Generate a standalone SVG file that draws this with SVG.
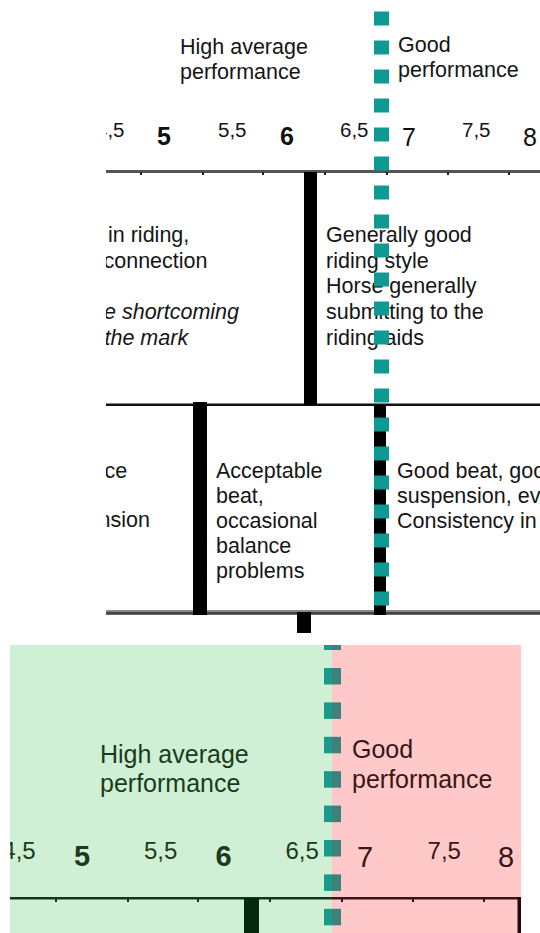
<svg xmlns="http://www.w3.org/2000/svg" width="540" height="933" viewBox="0 0 540 933">
  <style>
    .t { font-family: "Liberation Sans", Arial, sans-serif; font-size: 21.5px; fill: #151515; }
    .it { font-style: italic; }
    .half { font-family: "Liberation Sans", Arial, sans-serif; font-size: 20.5px; fill: #151515; }
    .int { font-family: "Liberation Sans", Arial, sans-serif; font-size: 25px; fill: #111; }
    .b { font-weight: bold; }
    .bt { font-family: "Liberation Sans", Arial, sans-serif; font-size: 25px; }
    .bhalf { font-family: "Liberation Sans", Arial, sans-serif; font-size: 24px; }
    .bint { font-family: "Liberation Sans", Arial, sans-serif; font-size: 29px; }
    .gtxt { fill: #1c3a20; }
    .rtxt { fill: #3a1515; }
    .teal { fill: #0e9a93; }
  </style>
  <defs>
    <clipPath id="clipTop"><rect x="106" y="0" width="434" height="640"/></clipPath>
    <clipPath id="clipBot"><rect x="10" y="645" width="511" height="288"/></clipPath>
    <rect id="sq" x="374" y="0" width="15" height="14" class="teal"/>
    <g id="bsq">
      <rect x="324" y="0" width="8.5" height="16.5" fill="#1b9a8a"/>
      <rect x="332" y="0" width="9" height="16.5" fill="#3d807c"/>
    </g>
  </defs>

  <!-- ============ TOP PANEL ============ -->
  <g id="top-panel" clip-path="url(#clipTop)">
    <g id="top-header">
      <text class="t" x="180" y="54">High average</text>
      <text class="t" x="180" y="79">performance</text>
      <text class="t" x="398" y="52">Good</text>
      <text class="t" x="398" y="77">performance</text>
    </g>
    <g id="top-scale">
      <text class="half" x="96" y="137">4,5</text>
      <text class="int b" x="157" y="145">5</text>
      <text class="half" x="218" y="137">5,5</text>
      <text class="int b" x="280" y="145">6</text>
      <text class="half" x="340" y="137">6,5</text>
      <text class="int" x="402" y="146">7</text>
      <text class="half" x="462" y="137">7,5</text>
      <text class="int" x="523" y="146">8</text>
    </g>
    <g id="top-lines">
      <rect x="106" y="170" width="434" height="3" fill="#555"/>
      <g fill="#222">
        <rect x="140" y="172" width="2" height="3"/>
        <rect x="202" y="172" width="2" height="3"/>
        <rect x="262" y="172" width="2" height="3"/>
        <rect x="324" y="172" width="2" height="3"/>
        <rect x="386" y="172" width="2" height="3"/>
        <rect x="447" y="172" width="2" height="3"/>
        <rect x="508" y="172" width="2" height="3"/>
      </g>
      <rect x="106" y="403.5" width="434" height="2.5" fill="#111"/>
      <rect x="106" y="610" width="434" height="5" fill="#888"/>
      <rect x="106" y="612" width="434" height="2.5" fill="#444"/>
    </g>
    <g id="top-bars" fill="#000">
      <rect x="304" y="172" width="13" height="233"/>
      <rect x="193" y="402" width="14" height="213"/>
      <rect x="374" y="405" width="12" height="210"/>
      <rect x="297" y="612" width="14" height="21"/>
    </g>
    <g id="row1-left">
      <text class="t" x="108" y="242">in riding,</text>
      <text class="t" x="103.5" y="268">connection</text>
      <text class="t it" x="104" y="319">e shortcoming</text>
      <text class="t it" x="104.5" y="345">the mark</text>
    </g>
    <g id="row1-right">
      <text class="t" x="326" y="242">Generally good</text>
      <text class="t" x="326" y="268">riding style</text>
      <text class="t" x="326" y="293">Horse generally</text>
      <text class="t" x="326" y="319">submitting to the</text>
      <text class="t" x="326" y="345">riding aids</text>
    </g>
    <g id="row2-left">
      <text class="t" x="104.5" y="478">ce</text>
      <text class="t" x="98.6" y="527">nsion</text>
    </g>
    <g id="row2-mid">
      <text class="t" x="216" y="478">Acceptable</text>
      <text class="t" x="216" y="503">beat,</text>
      <text class="t" x="216" y="528">occasional</text>
      <text class="t" x="216" y="553">balance</text>
      <text class="t" x="216" y="578">problems</text>
    </g>
    <g id="row2-right">
      <text class="t" x="397" y="478">Good beat, goo</text>
      <text class="t" x="397" y="503">suspension, ev</text>
      <text class="t" x="397" y="528">Consistency in</text>
    </g>
    <g id="top-dotted">
      <use href="#sq" y="11.5"/><use href="#sq" y="40.5"/><use href="#sq" y="69.5"/>
      <use href="#sq" y="98.5"/><use href="#sq" y="127.5"/><use href="#sq" y="156.5"/>
      <use href="#sq" y="185.5"/><use href="#sq" y="214.5"/><use href="#sq" y="243.5"/>
      <use href="#sq" y="272.5"/><use href="#sq" y="301.5"/><use href="#sq" y="330.5"/>
      <use href="#sq" y="359.5"/><use href="#sq" y="388.5"/><use href="#sq" y="417.5"/>
      <use href="#sq" y="446.5"/><use href="#sq" y="475.5"/><use href="#sq" y="504.5"/>
      <use href="#sq" y="533.5"/><use href="#sq" y="562.5"/><use href="#sq" y="591.5"/>
    </g>
  </g>

  <!-- ============ BOTTOM PANEL ============ -->
  <g id="bottom-panel" clip-path="url(#clipBot)">
    <rect id="zone-green" x="10" y="645" width="322" height="288" fill="#cff0d4"/>
    <rect id="zone-pink" x="332" y="645" width="189" height="288" fill="#ffc9c9"/>
    <g id="bottom-header">
      <text class="bt gtxt" x="100" y="763">High average</text>
      <text class="bt gtxt" x="100" y="792">performance</text>
      <text class="bt rtxt" x="352" y="758">Good</text>
      <text class="bt rtxt" x="352" y="788">performance</text>
    </g>
    <g id="bottom-scale">
      <text class="bhalf gtxt" x="2.3" y="859">4,5</text>
      <text class="bint b gtxt" x="74" y="866">5</text>
      <text class="bhalf gtxt" x="144" y="859">5,5</text>
      <text class="bint b gtxt" x="215.5" y="866">6</text>
      <text class="bhalf gtxt" x="285.5" y="859">6,5</text>
      <text class="bint rtxt" x="357" y="867">7</text>
      <text class="bhalf rtxt" x="427.6" y="859">7,5</text>
      <text class="bint rtxt" x="498" y="867">8</text>
    </g>
    <g id="bottom-lines">
      <rect x="10" y="897" width="322" height="2.5" fill="#17331c"/>
      <rect x="332" y="897" width="189" height="2.5" fill="#3a1414"/>
      <g fill="#17331c">
        <rect x="55" y="899" width="2" height="3"/>
        <rect x="127" y="899" width="2" height="3"/>
        <rect x="197" y="899" width="2" height="3"/>
        <rect x="269" y="899" width="2" height="3"/>
      </g>
      <g fill="#3a1414">
        <rect x="341" y="899" width="2" height="3"/>
        <rect x="412" y="899" width="2" height="3"/>
        <rect x="483" y="899" width="2" height="3"/>
      </g>
      <rect x="517.5" y="897" width="3.5" height="36" fill="#2a0808"/>
      <rect x="244" y="898" width="15" height="35" fill="#022a0c"/>
    </g>
    <g id="bottom-dotted">
      <use href="#bsq" y="633.5"/><use href="#bsq" y="668"/><use href="#bsq" y="702.4"/>
      <use href="#bsq" y="736.8"/><use href="#bsq" y="771.2"/><use href="#bsq" y="805.6"/>
      <use href="#bsq" y="840"/><use href="#bsq" y="874.4"/><use href="#bsq" y="908.8"/>
    </g>
  </g>
</svg>
